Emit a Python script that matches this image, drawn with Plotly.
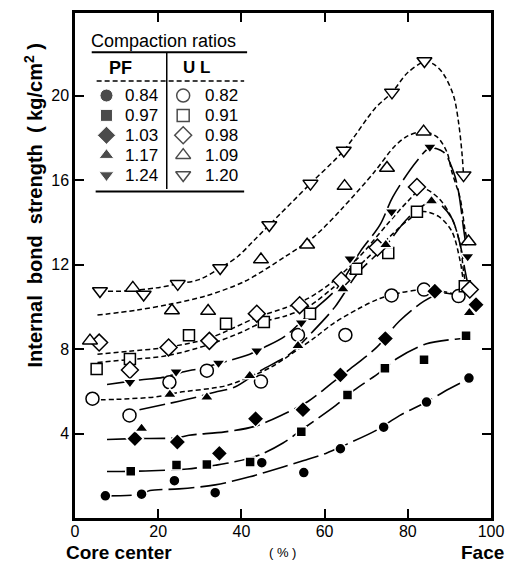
import plotly.graph_objects as go

# ---------------- data ----------------
# PF boards (filled markers, long-dash fitted curves)
pf084_x = [7.3, 16.0, 23.9, 33.7, 44.9, 55.0, 63.8, 74.2, 84.5, 94.7]
pf084_y = [1.05, 1.13, 1.77, 1.20, 2.62, 2.15, 3.28, 4.30, 5.49, 6.63]
pf084_cx = [7.3, 16, 18, 25, 33.7, 42, 50, 55, 60.3, 65.4, 72.5, 78, 84, 90, 94.7]
pf084_cy = [1.05, 1.13, 1.3, 1.38, 1.57, 1.95, 2.42, 2.72, 3.06, 3.5, 4.16, 4.85, 5.45, 6.12, 6.6]

pf097_x = [13.4, 24.4, 31.7, 42.1, 54.4, 65.5, 74.5, 83.9, 94.0]
pf097_y = [2.21, 2.51, 2.54, 2.65, 4.08, 5.83, 7.09, 7.50, 8.63]
pf097_cx = [7.7, 13.4, 20, 27, 33.7, 38.4, 44.3, 50, 55, 62.7, 67, 73.3, 77.2, 84.3, 91.4, 94]
pf097_cy = [2.2, 2.21, 2.25, 2.32, 2.5, 2.66, 2.98, 3.55, 4.25, 5.33, 6.04, 6.9, 7.53, 8.24, 8.47, 8.5]

pf103_x = [14.4, 24.6, 34.7, 43.4, 54.8, 63.8, 74.6, 86.5, 96.4]
pf103_y = [3.76, 3.60, 3.06, 4.70, 5.13, 6.78, 8.50, 10.74, 10.10]
pf103_cx = [7.7, 14.4, 24.6, 27.4, 36, 43.2, 50, 56, 61.5, 65.4, 72.5, 78, 83.9, 88, 92]
pf103_cy = [3.72, 3.76, 3.8, 3.92, 4.08, 4.34, 4.9, 5.52, 6.35, 6.95, 8.08, 9.33, 10.27, 10.65, 10.55]

pf117_x = [16.0, 22.8, 31.7, 42.0, 53.6, 64.4, 74.7, 85.7, 94.8]
pf117_y = [4.24, 5.85, 5.72, 6.74, 8.16, 10.85, 12.94, 15.01, 9.72]
pf117_cx = [15.5, 22, 29.2, 33.6, 38.3, 44.6, 51.6, 57, 62.5, 68, 74.7, 80, 85.7, 87.5, 90.6, 92.6, 93.8, 94.3]
pf117_cy = [5.13, 5.4, 5.72, 5.96, 6.19, 6.98, 7.76, 8.8, 10.0, 11.6, 12.9, 14.2, 15.0, 14.9, 14.19, 12.94, 11.68, 11.2]

pf124_x = [13.2, 24.3, 34.5, 43.7, 54.4, 66.1, 76.1, 85.3, 94.4]
pf124_y = [6.43, 6.93, 7.34, 7.92, 9.25, 12.28, 14.51, 17.57, 12.39]
pf124_cx = [7.7, 15.6, 21.1, 26.2, 30.2, 36.9, 42, 45.5, 50.6, 56.5, 63.1, 68.6, 73.3, 76.4, 82, 85.3, 88.6, 91, 92.2, 93.4, 94.2]
pf124_cy = [6.32, 6.54, 6.66, 6.93, 7.09, 7.45, 7.76, 8.08, 8.63, 9.7, 10.9, 12.63, 13.88, 15.21, 16.86, 17.52, 17.33, 16.39, 15.45, 13.72, 12.63]

# UL boards (open markers, short-dash fitted curves)
ul082_x = [4.2, 13.1, 22.7, 31.7, 44.7, 53.6, 65.0, 76.1, 83.9, 92.2]
ul082_y = [5.65, 4.86, 6.43, 6.98, 6.46, 8.67, 8.67, 10.54, 10.82, 10.51]
ul082_cx = [4.2, 10, 20, 25, 36, 41, 47, 53, 58, 62, 68, 73.3, 78, 83, 88, 92.2]
ul082_cy = [5.6, 5.62, 5.75, 5.95, 6.25, 6.6, 7.13, 7.9, 8.6, 9.2, 9.9, 10.4, 10.66, 10.8, 10.75, 10.55]

ul091_x = [5.2, 13.2, 27.4, 36.3, 45.4, 56.5, 67.6, 75.3, 82.2, 93.7]
ul091_y = [7.06, 7.53, 8.66, 9.20, 9.28, 9.68, 11.81, 12.55, 14.51, 10.98]
ul091_cx = [5.4, 13, 21.9, 32, 40, 45.4, 50.6, 56, 62, 68, 75, 80, 83.5, 87.5, 90.6, 92.6, 93.4, 94]
ul091_cy = [7.37, 7.5, 7.68, 8.2, 8.8, 9.3, 9.57, 10.0, 10.9, 11.9, 13.2, 14.1, 14.51, 14.27, 13.57, 12.16, 11.22, 10.9]

ul098_x = [5.8, 13.2, 22.5, 32.3, 43.7, 54.0, 64.0, 72.7, 82.2, 94.9]
ul098_y = [8.31, 7.01, 8.08, 8.39, 9.68, 10.08, 11.25, 12.81, 15.68, 10.82]
ul098_cx = [5.4, 13, 21.9, 32, 43.7, 50.6, 56, 62, 68, 75, 80, 83.5, 87.5, 90.6, 92.6, 93.4, 94]
ul098_cy = [7.76, 7.9, 8.08, 8.5, 9.5, 9.96, 10.4, 11.2, 12.3, 13.9, 15.0, 15.6, 15.13, 14.19, 12.94, 11.68, 11.0]

ul109_x = [3.6, 13.9, 23.3, 32.0, 44.7, 55.8, 64.8, 75.0, 83.8, 94.6]
ul109_y = [8.40, 10.90, 9.83, 9.80, 12.24, 12.94, 15.72, 16.58, 18.30, 13.10]
ul109_cx = [5.4, 15, 22.7, 31.3, 40.8, 50.6, 57.5, 64.2, 72, 76.8, 80, 83.8, 87.1, 89.4, 90.6, 92.6, 93.7, 94.3]
ul109_cy = [9.61, 9.85, 10.12, 10.51, 11.21, 12.39, 13.33, 14.66, 16.4, 17.6, 18.1, 18.3, 18.04, 17.33, 16.39, 15.13, 13.72, 13.1]

ul120_x = [6.0, 16.5, 24.7, 34.9, 46.7, 56.6, 64.6, 76.2, 84.0, 93.4]
ul120_y = [10.75, 10.59, 11.09, 11.84, 13.88, 15.84, 17.41, 20.16, 21.65, 16.24]
ul120_cx = [6.0, 12, 19.5, 24.7, 29.8, 34.9, 39.2, 42.8, 46.7, 56.6, 64.6, 72.1, 76.2, 80, 84, 86.3, 88.6, 91, 92.2, 93, 93.4]
ul120_cy = [10.75, 10.75, 10.9, 11.09, 11.29, 11.84, 12.4, 13.1, 13.88, 15.84, 17.41, 19.4, 20.16, 21.1, 21.6, 21.49, 21.02, 20.0, 18.74, 17.33, 16.24]

pf_ratios = ["0.84", "0.97", "1.03", "1.17", "1.24"]
ul_ratios = ["0.82", "0.91", "0.98", "1.09", "1.20"]

x_ticks = [0, 20, 40, 60, 80, 100]
y_ticks = [4, 8, 12, 16, 20]

# ---------------- styles / layout ----------------
FONT = "Liberation Sans, Arial, sans-serif"
PF_DASH = "26px,6px"
UL_DASH = "5px,3px"

W, H = 514, 564
L, R, T, B = 75, 16, 10, 46
PW, PH = W - L - R, H - T - B
X_RANGE = [0, 100]
Y_RANGE = [0, 23.92]


def pxx(px):
    return (px - L) / PW


def pxy(py):
    return (H - B - py) / PH


def dx(px):  # pixel -> data x (legend key placement)
    return X_RANGE[0] + pxx(px) * (X_RANGE[1] - X_RANGE[0])


def dy(py):
    return Y_RANGE[0] + pxy(py) * (Y_RANGE[1] - Y_RANGE[0])


fig = go.Figure()

symbols = ["circle", "square", "diamond", "triangle-up", "triangle-down"]
pf_sizes = [11, 10, 13, 12, 12]
ul_sizes = [13, 11, 13, 13, 13]

pf_series = [
    (pf084_x, pf084_y, pf084_cx, pf084_cy),
    (pf097_x, pf097_y, pf097_cx, pf097_cy),
    (pf103_x, pf103_y, pf103_cx, pf103_cy),
    (pf117_x, pf117_y, pf117_cx, pf117_cy),
    (pf124_x, pf124_y, pf124_cx, pf124_cy),
]
ul_series = [
    (ul082_x, ul082_y, ul082_cx, ul082_cy),
    (ul091_x, ul091_y, ul091_cx, ul091_cy),
    (ul098_x, ul098_y, ul098_cx, ul098_cy),
    (ul109_x, ul109_y, ul109_cx, ul109_cy),
    (ul120_x, ul120_y, ul120_cx, ul120_cy),
]

for (mx, my, cx, cy) in pf_series:
    fig.add_trace(go.Scatter(x=cx, y=cy, mode="lines", line=dict(color="black", width=1.6, dash=PF_DASH, shape="spline", smoothing=0.9), hoverinfo="skip"))
for (mx, my, cx, cy) in ul_series:
    fig.add_trace(go.Scatter(x=cx, y=cy, mode="lines", line=dict(color="black", width=1.5, dash=UL_DASH, shape="spline", smoothing=0.9), hoverinfo="skip"))
for i, (mx, my, cx, cy) in enumerate(ul_series):
    fig.add_trace(go.Scatter(x=mx, y=my, mode="markers", name="UL " + ul_ratios[i], marker=dict(symbol=symbols[i], size=ul_sizes[i], color="white", line=dict(color="black", width=1.5))))
for i, (mx, my, cx, cy) in enumerate(pf_series):
    fig.add_trace(go.Scatter(x=mx, y=my, mode="markers", name="PF " + pf_ratios[i], marker=dict(symbol=symbols[i], size=pf_sizes[i], color="black", line=dict(color="white", width=1.5))))

# legend keys (drawn inside the plot like the printed key table)
row_py = [93, 113, 133, 153, 173]
fig.add_trace(go.Scatter(x=[dx(107)] * 5, y=[dy(p) for p in row_py], mode="markers", hoverinfo="skip",
                         marker=dict(symbol=symbols, size=[13, 12, 14, 13, 13], color="black")))
fig.add_trace(go.Scatter(x=[dx(185)] * 5, y=[dy(p) for p in row_py], mode="markers", hoverinfo="skip",
                         marker=dict(symbol=symbols, size=[13, 12, 13, 13, 13], color="white", line=dict(color="black", width=1.5))))

axis_common = dict(showline=True, linecolor="black", linewidth=2.5, mirror="ticks", ticks="inside", ticklen=9, tickwidth=2, tickcolor="black", showgrid=False, zeroline=False, tickfont=dict(family=FONT, size=16, color="black"))
fig.update_xaxes(range=X_RANGE, tickvals=x_ticks, ticktext=[str(v) for v in x_ticks], ticklabelstandoff=-3, **axis_common)
fig.update_yaxes(range=Y_RANGE, tickvals=y_ticks, ticktext=[str(v) for v in y_ticks], **axis_common)

ann = []
shapes = []
# Legend block
ann.append(dict(text="Compaction ratios", x=pxx(165), y=pxy(38), font=dict(family=FONT, size=18, color="black")))
shapes.append(dict(type="line", xref="paper", yref="paper", x0=pxx(92), x1=pxx(250), y0=pxy(49.5), y1=pxy(49.5), line=dict(color="black", width=2)))
ann.append(dict(text="<b>PF</b>", x=pxx(121), y=pxy(65), font=dict(family=FONT, size=18, color="black")))
ann.append(dict(text="<b>U L</b>", x=pxx(199), y=pxy(65), font=dict(family=FONT, size=17, color="black")))
shapes.append(dict(type="line", xref="paper", yref="paper", x0=pxx(97), x1=pxx(247), y0=pxy(78.3), y1=pxy(78.3), line=dict(color="black", width=1.5, dash="5px,3px")))
shapes.append(dict(type="line", xref="paper", yref="paper", x0=pxx(168.3), x1=pxx(168.3), y0=pxy(50), y1=pxy(187), line=dict(color="black", width=1.5)))
shapes.append(dict(type="line", xref="paper", yref="paper", x0=pxx(96), x1=pxx(247), y0=pxy(189.5), y1=pxy(189.5), line=dict(color="black", width=2)))
for i in range(5):
    ann.append(dict(text=pf_ratios[i], x=pxx(161), y=pxy(row_py[i]), xanchor="right", font=dict(family=FONT, size=17, color="black")))
    ann.append(dict(text=ul_ratios[i], x=pxx(205), y=pxy(row_py[i]), xanchor="left", font=dict(family=FONT, size=17, color="black")))

# axis titles
ann.append(dict(text="<b>Internal&nbsp;&nbsp;bond&nbsp;&nbsp;strength&nbsp;&nbsp;(&nbsp;kg/cm<sup>2</sup>&nbsp;)</b>", x=pxx(33), y=pxy(204), textangle=-90, font=dict(family=FONT, size=20, color="black")))
ann.append(dict(text="<b>Core center</b>", x=pxx(64), y=pxy(553), xanchor="left", font=dict(family=FONT, size=19, color="black")))
ann.append(dict(text="( % )", x=pxx(286), y=pxy(553), font=dict(family=FONT, size=13, color="black")))
ann.append(dict(text="<b>Face</b>", x=pxx(513), y=pxy(553), xanchor="right", font=dict(family=FONT, size=19, color="black")))

for a in ann:
    a.setdefault("xref", "paper")
    a.setdefault("yref", "paper")
    a.setdefault("showarrow", False)
    a.setdefault("xanchor", "center")
    a.setdefault("yanchor", "middle")

fig.update_layout(width=W, height=H, margin=dict(l=L, r=R, t=T, b=B), paper_bgcolor="white", plot_bgcolor="white", showlegend=False, annotations=ann, shapes=shapes)

fig.write_html("out.html")
